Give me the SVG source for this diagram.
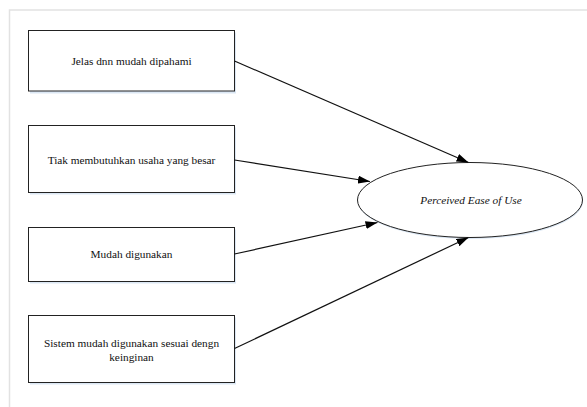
<svg xmlns="http://www.w3.org/2000/svg" width="587" height="407" viewBox="0 0 587 407">
<style>
.box{fill:#fff;stroke:#222;stroke-width:1}
.shadow{fill:#dbe7f4}
.lbl{font-family:'Liberation Serif','DejaVu Serif',serif;font-size:11.3px;fill:#111;text-anchor:middle}
.conn{stroke:#111;stroke-width:1.2;fill:none}
</style>
<defs>
<marker id="ah" viewBox="0 0 12 8" refX="12" refY="4" markerWidth="12" markerHeight="8" markerUnits="userSpaceOnUse" orient="auto">
<path d="M0,0 L12,4 L0,8 Z" fill="#000"/>
</marker>
</defs>
<rect width="587" height="407" fill="#fff"/>
<path d="M9.5,407 V10 H587" fill="none" stroke="#e2e2e2" stroke-width="1.5"/>
<g id="n1">
<rect class="shadow" x="30" y="32.5" width="206" height="61"/>
<rect class="box" x="28.5" y="30.5" width="206" height="60.5"/>
<text class="lbl" x="131.5" y="64.5">Jelas dnn mudah dipahami</text>
</g>
<g id="n2">
<rect class="shadow" x="30" y="127.5" width="206" height="67"/>
<rect class="box" x="28.5" y="125.5" width="206" height="67"/>
<text class="lbl" x="131.5" y="163.5">Tiak membutuhkan usaha yang besar</text>
</g>
<g id="n3">
<rect class="shadow" x="30" y="229.5" width="206" height="54"/>
<rect class="box" x="28.5" y="227.5" width="206" height="54"/>
<text class="lbl" x="131.5" y="258">Mudah digunakan</text>
</g>
<g id="n4">
<rect class="shadow" x="30" y="317.5" width="206" height="67"/>
<rect class="box" x="28.5" y="315.5" width="206" height="67"/>
<text class="lbl" x="131.5" y="347">Sistem mudah digunakan sesuai dengn</text>
<text class="lbl" x="131.5" y="360.5">keinginan</text>
</g>
<g id="n5">
<ellipse cx="470.5" cy="201.5" rx="112.5" ry="37.5" fill="#dbe7f4"/>
<ellipse cx="470" cy="200" rx="112.5" ry="37.5" fill="#fff" stroke="#222" stroke-width="1"/>
<text class="lbl" x="471" y="203.5" font-style="italic">Perceived Ease of Use</text>
</g>
<g id="connectors">
<line class="conn" x1="234.5" y1="61" x2="468.5" y2="162.5" marker-end="url(#ah)"/>
<line class="conn" x1="234.5" y1="160" x2="370" y2="181.5" marker-end="url(#ah)"/>
<line class="conn" x1="234.5" y1="254" x2="377.5" y2="222.5" marker-end="url(#ah)"/>
<line class="conn" x1="234.5" y1="348.5" x2="468.5" y2="237.5" marker-end="url(#ah)"/>
</g>
</svg>
